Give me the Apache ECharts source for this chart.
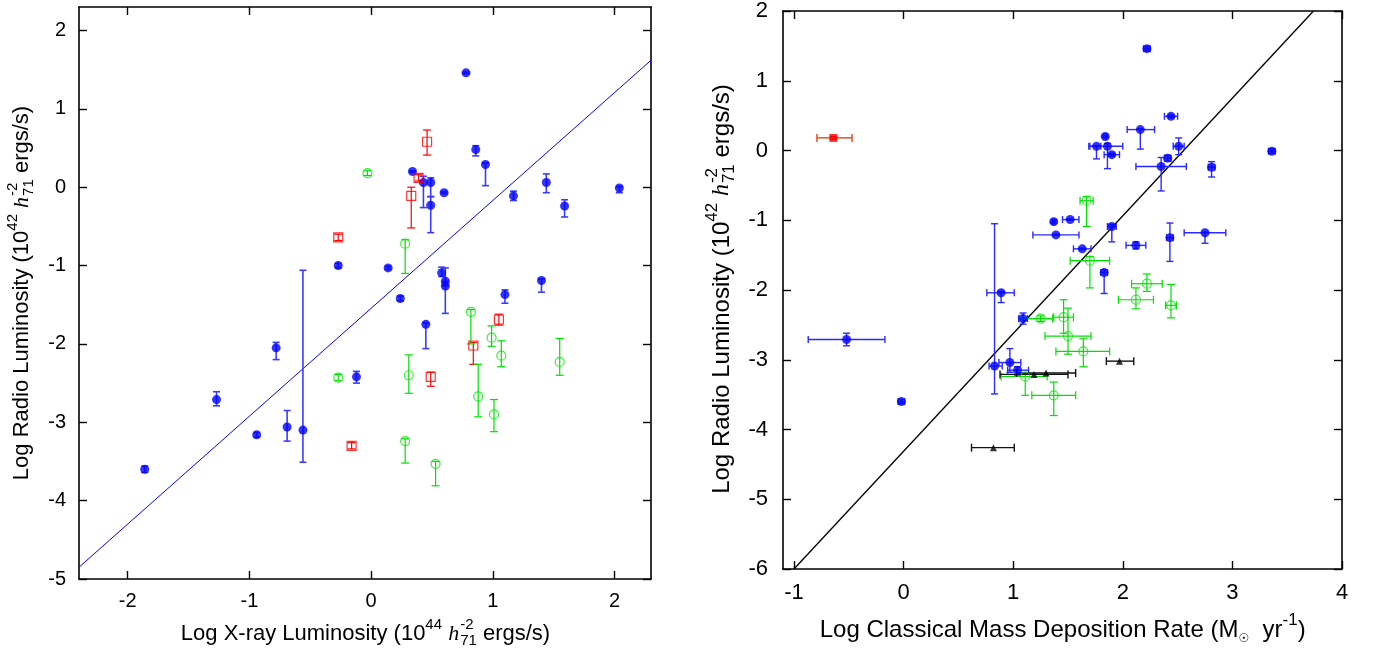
<!DOCTYPE html>
<html>
<head>
<meta charset="utf-8">
<script src="https://cdn.jsdelivr.net/npm/echarts@6/dist/echarts.min.js"></script>
<style>
html,body{margin:0;padding:0;background:#fff;}
#chart{width:1374px;height:652px;}
</style>
</head>
<body>
<div id="chart"></div>
<script>
// ---------- DATA ----------
// Left panel: [x, y, yLow, yHigh]
const leftBlue = [
  [-1.86,-3.60,-3.64,-3.56],[-1.27,-2.71,-2.79,-2.61],[-0.94,-3.16,-3.19,-3.13],
  [-0.78,-2.05,-2.20,-1.98],[-0.69,-3.06,-3.24,-2.85],[-0.56,-3.10,-3.51,-1.06],
  [-0.27,-1.00,-1.03,-0.97],[-0.12,-2.42,-2.50,-2.35],[0.14,-1.03,-1.05,-1.01],
  [0.24,-1.42,-1.45,-1.39],[0.34,0.20,0.19,0.21],[0.43,0.06,-0.26,0.14],
  [0.49,0.06,-0.12,0.12],[0.49,-0.23,-0.58,-0.12],[0.60,-0.07,-0.08,-0.06],
  [0.78,1.46,1.45,1.47],[0.86,0.48,0.40,0.53],[0.94,0.29,0.02,0.31],
  [0.58,-1.09,-1.14,-1.02],[0.61,-1.20,-1.26,-1.03],[0.61,-1.26,-1.61,-1.20],
  [1.10,-1.37,-1.48,-1.31],[1.17,-0.11,-0.17,-0.05],[1.40,-1.19,-1.34,-1.17],
  [1.44,0.06,-0.07,0.17],[1.59,-0.24,-0.38,-0.16],[2.04,-0.01,-0.07,0.01],
  [0.45,-1.75,-2.06,-1.73]
];
const leftRed = [
  [-0.27,-0.64,-0.68,-0.60],[0.39,0.12,0.08,0.16],[0.33,-0.11,-0.52,0.00],
  [0.46,0.58,0.41,0.73],[-0.16,-3.30,-3.34,-3.26],[0.49,-2.42,-2.54,-2.36],
  [0.84,-2.02,-2.26,-1.98],[1.05,-1.69,-1.76,-1.62]
];
const leftGreen = [
  [-0.03,0.18,0.15,0.21],[0.28,-0.72,-1.10,-0.67],[-0.27,-2.43,-2.47,-2.39],
  [0.31,-2.40,-2.63,-2.14],[0.28,-3.24,-3.52,-3.21],[0.53,-3.53,-3.81,-3.50],
  [0.82,-1.59,-2.00,-1.56],[0.88,-2.67,-2.93,-2.26],[0.99,-1.92,-2.03,-1.77],
  [1.07,-2.15,-2.29,-1.96],[1.01,-2.90,-3.12,-2.71],[1.55,-2.23,-2.40,-1.93]
];
const leftFit = [[-2.4,-4.85],[2.3,1.62]];

// Right panel: [x, y, xLow, xHigh, yLow, yHigh]
const rightBlue = [
  [2.22,1.46,2.19,2.25,1.43,1.49],[2.44,0.49,2.38,2.50,0.47,0.51],
  [2.16,0.30,2.04,2.29,0.02,0.31],[1.84,0.20,1.83,1.85,0.19,0.21],
  [1.76,0.06,1.69,1.80,-0.12,0.07],[1.86,0.06,1.70,2.00,-0.26,0.10],
  [1.90,-0.06,1.83,1.97,-0.08,-0.04],[2.51,0.06,2.46,2.56,-0.06,0.18],
  [2.41,-0.11,2.38,2.44,-0.15,-0.07],[2.35,-0.23,2.12,2.58,-0.58,-0.10],
  [2.81,-0.24,2.78,2.84,-0.38,-0.16],[3.36,-0.01,3.33,3.39,-0.04,0.02],
  [1.37,-1.02,1.36,1.38,-1.04,-1.00],[1.52,-0.99,1.45,1.60,-1.00,-0.98],
  [1.39,-1.21,1.18,1.60,-1.22,-1.20],[1.90,-1.09,1.86,1.94,-1.31,-1.06],
  [1.63,-1.41,1.55,1.71,-1.42,-1.40],[2.12,-1.36,2.03,2.21,-1.41,-1.31],
  [2.43,-1.25,2.40,2.46,-1.59,-1.04],[2.75,-1.18,2.56,2.94,-1.33,-1.17],
  [1.83,-1.75,1.80,1.86,-2.05,-1.71],[0.89,-2.04,0.76,1.01,-2.18,-2.02],
  [0.83,-3.09,0.78,0.90,-3.49,-1.05],[1.09,-2.41,1.05,1.13,-2.49,-2.33],
  [0.97,-3.04,0.87,1.07,-3.18,-2.84],[1.04,-3.15,0.95,1.14,-3.22,-3.10],
  [-0.52,-2.71,-0.87,-0.17,-2.80,-2.62],[-0.02,-3.60,-0.05,0.01,-3.63,-3.57]
];
const rightRed = [[-0.64,0.18,-0.79,-0.47,0.16,0.20]];
const rightGreen = [
  [1.67,-0.72,1.61,1.73,-1.09,-0.66],[1.70,-1.58,1.52,1.88,-1.97,-1.52],
  [2.22,-1.91,2.08,2.36,-2.02,-1.77],[2.12,-2.14,1.96,2.28,-2.27,-1.97],
  [2.44,-2.22,2.39,2.49,-2.40,-1.92],[1.25,-2.41,1.06,1.36,-2.45,-2.37],
  [1.46,-2.39,1.37,1.55,-2.62,-2.14],[1.50,-2.66,1.29,1.71,-2.92,-2.26],
  [1.64,-2.88,1.39,1.88,-3.10,-2.70],[1.11,-3.24,0.89,1.31,-3.51,-3.20],
  [1.37,-3.51,1.17,1.57,-3.80,-3.32]
];
const rightBlack = [
  [1.97,-3.02,1.85,2.10,-3.02,-3.02],[1.19,-3.21,0.88,1.50,-3.21,-3.21],
  [1.30,-3.19,1.03,1.57,-3.19,-3.19],[0.82,-4.26,0.62,1.01,-4.26,-4.26]
];
const rightFit = [[-1.0,-6.0],[3.74,2.0]];

// Tick labels
const leftXTicks = [-2,-1,0,1,2];
const leftYTicks = [-5,-4,-3,-2,-1,0,1,2];
const rightXTicks = [-1,0,1,2,3,4];
const rightYTicks = [-6,-5,-4,-3,-2,-1,0,1,2];

// ---------- CHART ----------
const SANS = "'Liberation Sans', Arial, sans-serif";
const SERIF = "'Liberation Serif', 'Times New Roman', serif";
const chart = echarts.init(document.getElementById('chart'), null, {renderer:'canvas'});

function axis(opts) {
  return {
    type:'value', gridIndex:opts.grid, position:opts.pos, min:opts.min, max:opts.max,
    axisLine:{show:true, onZero:false, lineStyle:{color:'#000', width:1.6}},
    axisTick:{show:true, inside:true, length:8, customValues:opts.ticks, lineStyle:{color:'#000', width:1.4}},
    axisLabel:{show:!!opts.label, customValues:opts.ticks, color:'#000', fontSize:opts.fs, fontFamily:SANS, margin:opts.margin},
    splitLine:{show:false}
  };
}

function errRender(color, cap, hasX, lw) {
  return function(params, api) {
    const x = api.value(0), y = api.value(1);
    const ch = [];
    const st = {stroke:color, lineWidth:lw};
    const ylo = api.value(hasX?4:2), yhi = api.value(hasX?5:3);
    if (ylo !== yhi) {
      const a = api.coord([x, ylo]), b = api.coord([x, yhi]);
      ch.push({type:'line', shape:{x1:a[0],y1:a[1],x2:b[0],y2:b[1]}, style:st});
      ch.push({type:'line', shape:{x1:a[0]-cap,y1:a[1],x2:a[0]+cap,y2:a[1]}, style:st});
      ch.push({type:'line', shape:{x1:b[0]-cap,y1:b[1],x2:b[0]+cap,y2:b[1]}, style:st});
    }
    if (hasX) {
      const a = api.coord([api.value(2), y]), b = api.coord([api.value(3), y]);
      ch.push({type:'line', shape:{x1:a[0],y1:a[1],x2:b[0],y2:b[1]}, style:st});
      ch.push({type:'line', shape:{x1:a[0],y1:a[1]-cap,x2:a[0],y2:a[1]+cap}, style:st});
      ch.push({type:'line', shape:{x1:b[0],y1:b[1]-cap,x2:b[0],y2:b[1]+cap}, style:st});
    }
    return {type:'group', children:ch};
  };
}

function errSeries(data, color, hasX, xi, yi, lw, cap) {
  return {type:'custom', xAxisIndex:xi, yAxisIndex:yi, data:data, encode:{x:0,y:1},
    renderItem:errRender(color, cap||4, hasX, lw||1.3), silent:true, clip:true, z:2};
}
function scat(data, xi, yi, symbol, size, itemStyle) {
  return {type:'scatter', xAxisIndex:xi, yAxisIndex:yi, data:data.map(d=>[d[0],d[1]]),
    symbol:symbol, symbolSize:size, itemStyle:itemStyle, silent:true, z:3};
}

// Titles with super/subscripts
const mctx = document.createElement('canvas').getContext('2d');
function tw(t, f){ mctx.font = f; return mctx.measureText(t).width; }
function buildTitle(parts, fs, cx, cy, rot) {
  const sm = Math.round(fs*0.7);
  const items = []; let x = 0;
  parts.forEach(p => {
    if (p.t === 'n') {
      const f = fs+'px '+SANS; items.push({x, y:0, s:p.s, f}); x += tw(p.s, f);
    } else if (p.t === 'i') {
      const f = 'italic '+fs+'px '+SERIF; items.push({x, y:0, s:p.s, f}); x += tw(p.s, f) + 1;
    } else if (p.t === 'sup') {
      const f = sm+'px '+SANS; items.push({x, y:-fs*0.42, s:p.s, f}); x += tw(p.s, f);
    } else if (p.t === 'sub') {
      const sz = Math.round(fs*(p.scale||0.7));
      const f = sz+'px '+(p.fam||SANS); items.push({x, y:fs*0.38, s:p.s, f}); x += tw(p.s, f);
    } else if (p.t === 'stack') {
      const f = sm+'px '+SANS;
      items.push({x, y:-fs*0.42, s:p.sup, f}); items.push({x, y:fs*0.32, s:p.sub, f});
      x += Math.max(tw(p.sup,f), tw(p.sub,f));
    }
  });
  const total = x;
  return {type:'group', x:cx, y:cy, rotation:rot||0, silent:true,
    children: items.map(it => ({type:'text', x:it.x-total/2, y:it.y,
      style:{text:it.s, font:it.f, fill:'#000', align:'left', verticalAlign:'middle', textAlign:'left', textVerticalAlign:'middle'}}))};
}
const lumParts = (exp) => [
  {t:'n', s:'Log Radio Luminosity (10'}, {t:'sup', s:exp}, {t:'n', s:' '},
  {t:'i', s:'h'}, {t:'stack', sup:'-2', sub:'71'}, {t:'n', s:' ergs/s)'}
];

const option = {
  animation:false,
  backgroundColor:'#fff',
  grid:[
    {left:79, top:7, width:572, height:572},
    {left:783, top:10, width:559, height:559}
  ],
  xAxis:[
    axis({grid:0,pos:'bottom',min:-2.4,max:2.3,ticks:leftXTicks,label:true,fs:20,margin:12}),
    axis({grid:0,pos:'top',min:-2.4,max:2.3,ticks:leftXTicks,label:false}),
    axis({grid:1,pos:'bottom',min:-1.1,max:4,ticks:rightXTicks,label:true,fs:22,margin:13}),
    axis({grid:1,pos:'top',min:-1.1,max:4,ticks:rightXTicks,label:false})
  ],
  yAxis:[
    axis({grid:0,pos:'left',min:-5,max:2.3,ticks:leftYTicks,label:true,fs:20,margin:13}),
    axis({grid:0,pos:'right',min:-5,max:2.3,ticks:leftYTicks,label:false}),
    axis({grid:1,pos:'left',min:-6,max:2,ticks:rightYTicks,label:true,fs:22,margin:15}),
    axis({grid:1,pos:'right',min:-6,max:2,ticks:rightYTicks,label:false})
  ],
  series:[
    {type:'line', xAxisIndex:0, yAxisIndex:0, data:leftFit, showSymbol:false, silent:true,
      lineStyle:{color:'#0000ff', width:1}, z:1},
    errSeries(leftBlue, '#3b3bff', false, 0, 0, 1.6, 3.5),
    errSeries(leftRed, '#ff0000', false, 0, 0, 1.2, 4),
    errSeries(leftGreen, '#00e000', false, 0, 0, 1.2, 4),
    scat(leftBlue, 0, 0, 'circle', 9, {color:'#0000ff'}),
    scat(leftRed, 0, 0, 'rect', 9, {color:'rgba(255,255,255,0)', borderColor:'#ff0000', borderWidth:1.2}),
    scat(leftGreen, 0, 0, 'circle', 9, {color:'rgba(255,255,255,0)', borderColor:'#00ee00', borderWidth:1.2}),

    {type:'line', xAxisIndex:2, yAxisIndex:2, data:rightFit, showSymbol:false, silent:true,
      lineStyle:{color:'#000', width:1.3}, z:1},
    errSeries(rightBlue, '#2a2aff', true, 2, 2, 1.4, 3.5),
    errSeries(rightRed, '#e03000', true, 2, 2, 1.3, 4),
    errSeries(rightGreen, '#00e000', true, 2, 2, 1.2, 4),
    errSeries(rightBlack, '#111', true, 2, 2, 1.4, 4),
    scat(rightBlue, 2, 2, 'circle', 9, {color:'#0000ff'}),
    scat(rightRed, 2, 2, 'rect', 8, {color:'#ff0000'}),
    scat(rightGreen, 2, 2, 'circle', 9, {color:'rgba(255,255,255,0)', borderColor:'#00ee00', borderWidth:1.2}),
    scat(rightBlack, 2, 2, 'triangle', 7, {color:'#000'})
  ],
  graphic:[
    buildTitle([{t:'n', s:'Log X-ray Luminosity (10'}, {t:'sup', s:'44'}, {t:'n', s:' '},
      {t:'i', s:'h'}, {t:'stack', sup:'-2', sub:'71'}, {t:'n', s:' ergs/s)'}], 22, 365.5, 634, 0),
    buildTitle(lumParts('42'), 22, 22, 293, Math.PI/2),
    buildTitle([{t:'n', s:'Log Classical Mass Deposition Rate (M'}, {t:'sub', s:'\u2609', scale:0.5, fam:"'DejaVu Sans', sans-serif"},
      {t:'n', s:'  yr'}, {t:'sup', s:'-1'}, {t:'n', s:')'}], 24, 1062.7, 630, 0),
    buildTitle(lumParts('42'), 24, 722, 289, Math.PI/2)
  ]
};
chart.setOption(option);
</script>
</body>
</html>
